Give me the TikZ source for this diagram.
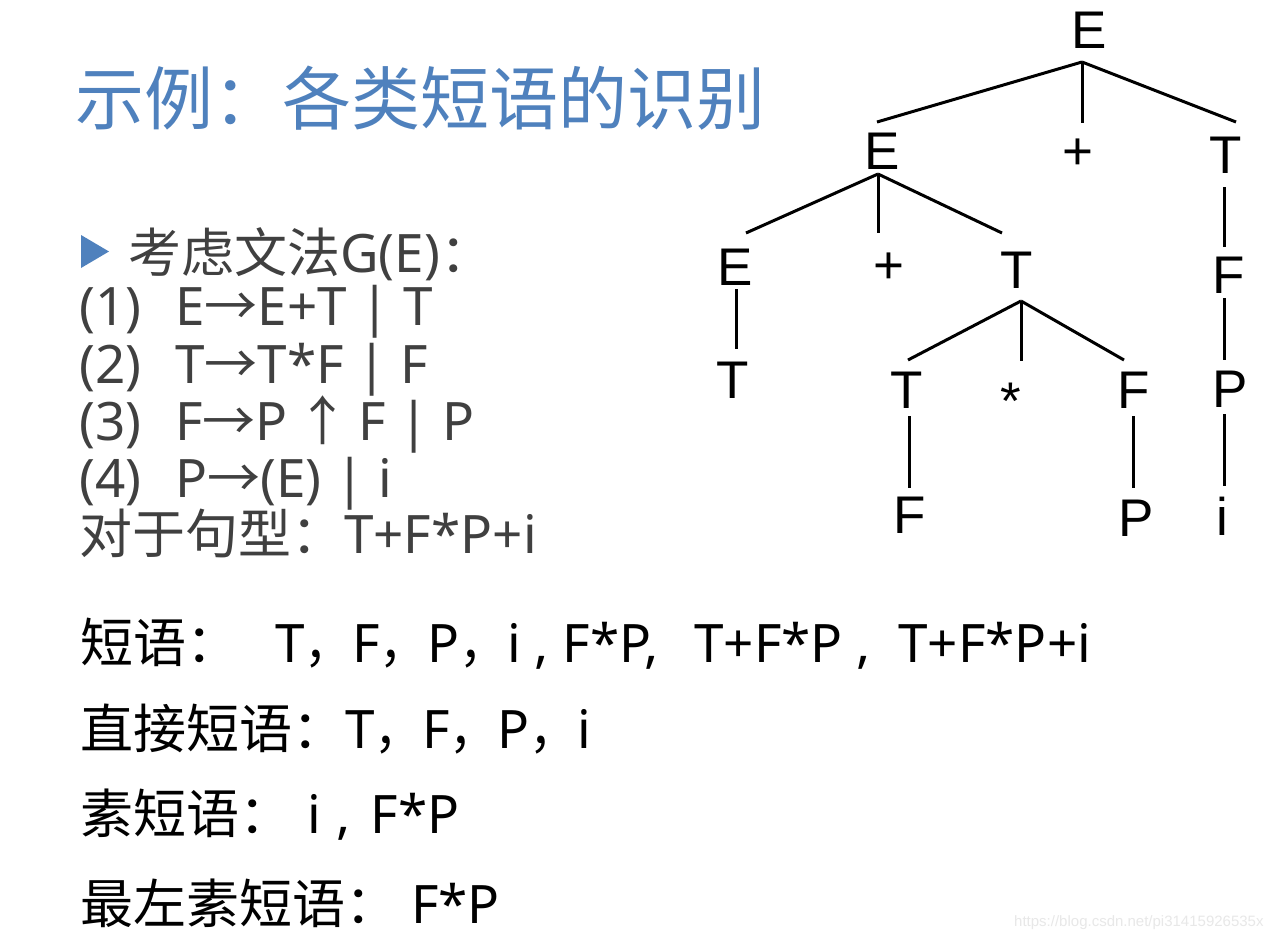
\documentclass[tikz,border=0pt]{standalone}
\usepackage{fontspec}
\usepackage{graphicx}
\setmainfont{Noto Sans}
\newfontfamily\cjk{Noto Sans CJK SC}
\newfontfamily\arialf{Liberation Sans}
\definecolor{titleblue}{HTML}{4F81BD}
\definecolor{textgray}{HTML}{404040}
\definecolor{wmgray}{HTML}{E8E8E8}
\newcommand{\fwc}{\scalebox{0.9}[1]{\cjk ，}}
\begin{document}
\begin{tikzpicture}[x=1pt,y=-1pt,
  tnode/.style={font=\arialf\fontsize{53}{53}\selectfont, inner sep=0pt, outer sep=0pt, anchor=base},
  tedge/.style={line width=3pt},
  gtext/.style={font=\fontsize{53}{60}\selectfont, text=textgray, inner sep=0pt, anchor=base west},
  ptext/.style={font=\fontsize{53}{60}\selectfont, text=black, inner sep=0pt, anchor=base west},
]
\fill[white] (0,0) rectangle (1288,939);
\useasboundingbox (0,0) rectangle (1288,939);

% title
\node[anchor=base west, inner sep=0pt, text=titleblue, font=\cjk\fontsize{69}{69}\selectfont] (title) at (75,125) {示例：各类短语的识别};

% grammar
\fill[titleblue] (81,235) -- (81,268) -- (109,251.5) -- cycle;
\node[gtext] (g0) at (128,272) {{\cjk 考虑文法}G(E){\cjk ：}};
\node[gtext] (n1) at (79,325) {(1)};
\node[gtext] (r1) at (175,325) {E{\cjk →}E+T | T};
\node[gtext] (n2) at (79,383) {(2)};
\node[gtext] (r2) at (175,383) {T{\cjk →}T*F | F};
\node[gtext] (n3) at (79,440) {(3)};
\node[gtext] (r3) at (175,440) {F{\cjk →}P\,{\cjk ↑}\,F | P};
\node[gtext] (n4) at (79,497) {(4)};
\node[gtext] (r4) at (175,497) {P{\cjk →}(E) | i};
\node[gtext] (g5) at (79,553) {{\cjk 对于句型：}T+F*P+i};

% phrases
\node[ptext] (l1) at (80,662) {{\cjk 短语：}};
\node[ptext] (c1) at (275,662) {T\fwc F\fwc P\fwc i , F*P,~~\hspace{8pt}T+F*P ,~~T+F*P+i};
\node[ptext] (l2) at (80,748) {{\cjk 直接短语：}T\fwc F\fwc P\fwc i};
\node[ptext] (l3) at (80,833) {{\cjk 素短语：}};
\node[ptext] (c3) at (307,833) {i\hspace{2pt} ,\hspace{6pt} F*P};
\node[ptext] (l4) at (80,923) {{\cjk 最左素短语：}};
\node[ptext] (c4) at (411,923) {F*P};

% tree
\node[tnode] (E0) at (1089,49) {E};
\node[tnode] (E1) at (882,170) {E};
\node[tnode] (A1) at (1078,169) {+};
\node[tnode] (T1) at (1226,173) {T};
\node[tnode] (E2) at (735,285) {E};
\node[tnode] (A2) at (889,283) {+};
\node[tnode] (T2) at (1017,288) {T};
\node[tnode] (F1) at (1229,293) {F};
\node[tnode] (T3) at (733,398) {T};
\node[tnode] (T4) at (907,408) {T};
\node[tnode] (S1) at (1011,419) {*};
\node[tnode] (F2) at (1134,408) {F};
\node[tnode] (P3) at (1230,407) {P};
\node[tnode] (F3) at (910,533) {F};
\node[tnode] (P4) at (1136,536) {P};
\node[tnode] (I1) at (1222,535) {i};

\coordinate (j0) at ([xshift=-7pt,yshift=-13pt]E0.base);
\coordinate (j1) at ([xshift=-4pt,yshift=-4pt]E1.base);
\coordinate (j2) at ([xshift=4pt,yshift=-13pt]T2.base);
\coordinate (A1t) at ([yshift=46pt]A1.base);
\coordinate (A2t) at ([yshift=50pt]A2.base);
\coordinate (S1t) at ([yshift=58pt]S1.base);

\draw[tedge] (j0) -- ([xshift=-5pt,yshift=48pt]E1.base);
\draw[tedge] (j0) -- (j0 |- A1t);
\draw[tedge] (j0) -- ([xshift=10pt,yshift=51pt]T1.base);
\draw[tedge] (j1) -- ([xshift=11pt,yshift=52pt]E2.base);
\draw[tedge] (j1) -- (j1 |- A2t);
\draw[tedge] (j1) -- ([xshift=-15pt,yshift=55pt]T2.base);
\draw[tedge] ([xshift=1pt,yshift=-4pt]E2.base) -- ([xshift=3pt,yshift=49pt]T3.base);
\draw[tedge] (j2) -- ([xshift=1pt,yshift=48pt]T4.base);
\draw[tedge] (j2) -- (j2 |- S1t);
\draw[tedge] (j2) -- ([xshift=-10pt,yshift=48pt]F2.base);
\draw[tedge] ([xshift=2pt,yshift=-8pt]T4.base) -- ([xshift=-1pt,yshift=45pt]F3.base);
\draw[tedge] ([xshift=-1pt,yshift=-8pt]F2.base) -- ([xshift=-3pt,yshift=48pt]P4.base);
\draw[tedge] ([xshift=-2pt,yshift=-14pt]T1.base) -- ([xshift=-5pt,yshift=46pt]F1.base);
\draw[tedge] ([xshift=-5pt,yshift=-5pt]F1.base) -- ([xshift=-6pt,yshift=47pt]P3.base);
\draw[tedge] ([xshift=-6pt,yshift=-7pt]P3.base) -- ([xshift=2pt,yshift=49pt]I1.base);

% watermark
\node[anchor=base west, inner sep=0pt, text=wmgray, font=\arialf\fontsize{15}{15}\selectfont] (wm) at (1014,926) {https://blog.csdn.net/pi31415926535x};
\end{tikzpicture}
\end{document}
